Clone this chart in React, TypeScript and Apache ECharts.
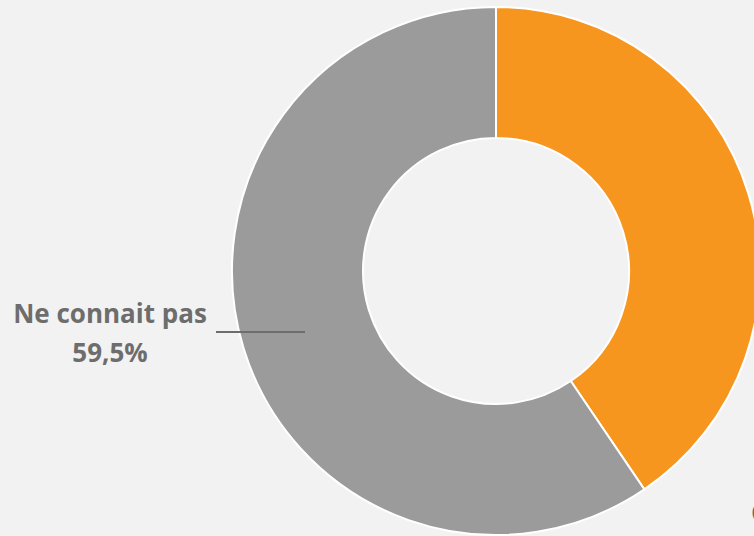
import React, { useEffect, useRef } from "react";
import * as echarts from "echarts";

const categories = ["Connait", "Ne connait pas"];
const values = [40.5, 59.5];
const colors = ["#F7961E", "#9B9B9B"];

export default function App() {
  const ref = useRef<HTMLDivElement>(null);
  useEffect(() => {
    if (!ref.current) return;
    const chart = echarts.init(ref.current, null, { renderer: "svg" });
    const base = {
      type: "pie",
      center: [496, 271],
      radius: [133, 264],
      startAngle: 90,
      clockwise: true,
    };
    chart.setOption({
      animation: false,
      backgroundColor: "#F2F2F2",
      series: [
        {
          ...base,
          z: 2,
          data: categories.map((c, i) => ({
            name: c,
            value: values[i],
            itemStyle: { color: colors[i] },
          })),
          itemStyle: { borderColor: "#FFFFFF", borderWidth: 2 },
          label: { show: false },
          labelLine: { show: false },
        },
        {
          ...base,
          z: 3,
          silent: true,
          data: categories.map((c, i) => ({ name: c, value: values[i] })),
          itemStyle: { color: "rgba(0,0,0,0)", borderWidth: 0 },
          label: {
            show: true,
            position: "outside",
            formatter: (p: any) => `${p.name}\n${String(p.value).replace(".", ",")}%`,
            color: "#6D6D6D",
            fontFamily: "Open Sans",
            fontWeight: "bold",
            fontSize: 26,
            lineHeight: 39,
            align: "center",
            overflow: "none",
          },
          labelLine: {
            show: true,
            lineStyle: { color: "#6D6D6D", width: 2 },
          },
          labelLayout: (params: any) => {
            if (params.dataIndex === 1) {
              return {
                x: 110,
                y: 332,
                fontSize: 26,
                align: "center",
                verticalAlign: "middle",
                labelLinePoints: [
                  [305, 332],
                  [216, 332],
                  [216, 332],
                ],
              };
            }
            return {
              x: 751,
              y: 531,
              fontSize: 26,
              align: "left",
              verticalAlign: "middle",
              labelLinePoints: [
                [900, 900],
                [900, 900],
                [900, 900],
              ],
            };
          },
        },
      ],
    });
    return () => chart.dispose();
  }, []);
  return (
    <div
      ref={ref}
      style={{ position: "fixed", left: 0, top: 0, width: 754, height: 536 }}
    />
  );
}
